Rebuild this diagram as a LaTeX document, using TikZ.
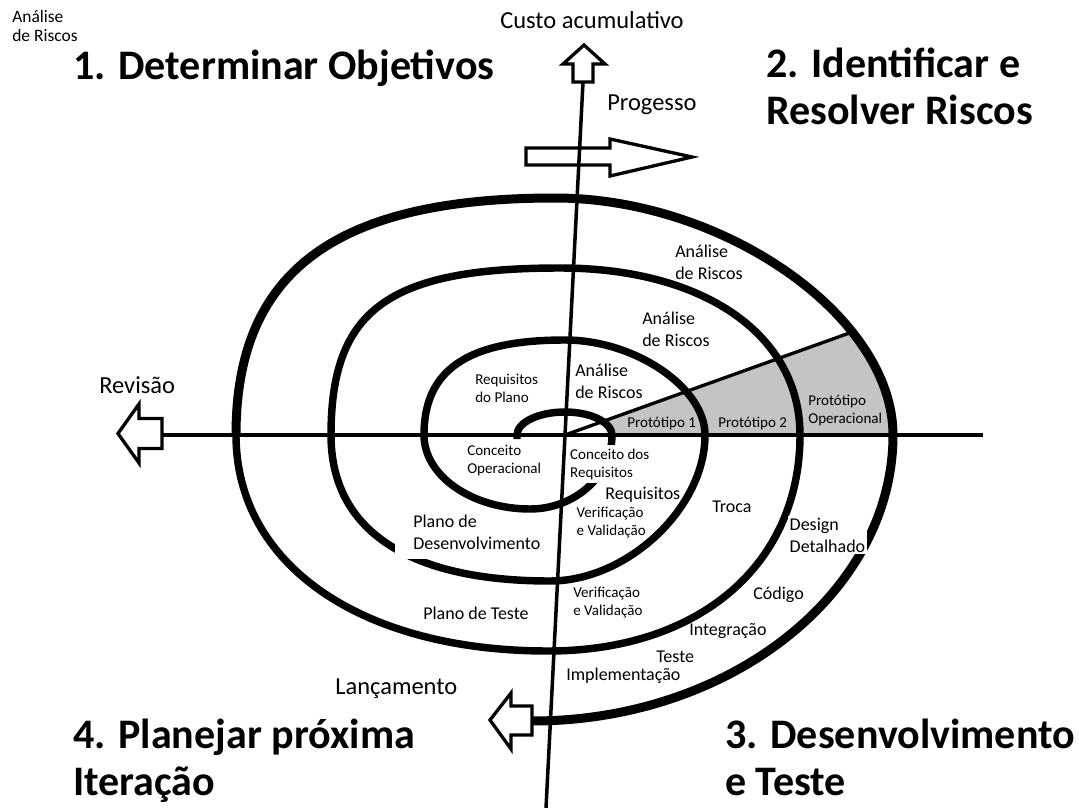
\documentclass[tikz,border=0pt]{standalone}
\usepackage{fontspec}
\setmainfont{Carlito}
\usetikzlibrary{intersections}
\definecolor{protogray}{RGB}{196,196,196}
\begin{document}
\begin{tikzpicture}[x=0.025cm,y=-0.025cm,
  spiral/.style={line width=5.3pt},
  outerspiral/.style={line width=6.4pt},
  axisline/.style={line width=2.5pt},
  slantline/.style={line width=2.35pt},
  blockarrow/.style={line width=2.35pt,fill=white,line join=miter},
  openarrow/.style={line width=2.35pt,line join=miter},
  lbl/.style={inner sep=0pt,anchor=base west,align=left},
  cut/.style={fill=white},
  fsmall/.style={font=\fontsize{10.7pt}{12.8pt}\selectfont},
  fmed/.style={font=\fontsize{12.8pt}{15.3pt}\selectfont},
  fmedwide/.style={font=\fontsize{12.8pt}{15.6pt}\selectfont},
  fbig/.style={font=\fontsize{17.4pt}{20pt}\selectfont},
  fcorner/.style={font=\fontsize{12.4pt}{14.2pt}\selectfont},
  ftitle/.style={font=\fontsize{29.9pt}{33.4pt}\selectfont\bfseries}]

\fill[white] (0,0) rectangle (1079,808);
\path[use as bounding box] (0,0) rectangle (1079,808);

\coordinate (ctr) at (565,435);

% grey prototype sector
\begin{scope}
  \clip (ctr) -- (1145,227) -- (1145,435) -- cycle;
  \fill[protogray] (236,435) .. controls (236,271.5) and (334.9,198) .. (555,198)
    .. controls (724,198) and (893,316.5) .. (893,435) -- cycle;
  \fill[white] (517,435) .. controls (517,422.4) and (538.6,412) .. (565,412)
    .. controls (590.9,412) and (612,422.4) .. (612,435) -- cycle;
\end{scope}

% spiral
\draw[spiral] (517,439) -- (517,435)
  .. controls (517,422.4) and (538.6,412) .. (565,412)
  .. controls (590.9,412) and (612,422.4) .. (612,435)
  .. controls (612,475.7) and (575.1,509) .. (530,509)
  .. controls (471.7,509) and (424,475.7) .. (424,435)
  .. controls (424,369.5) and (467.7,340) .. (565,340)
  .. controls (635,340) and (705,387.5) .. (705,435)
  .. controls (705,508) and (627.5,581) .. (550,581)
  .. controls (407.65,581) and (331,529.9) .. (331,435)
  .. controls (331,309.75) and (388.25,268) .. (560,268)
  .. controls (704,268) and (800,334.8) .. (800,435)
  .. controls (800,564.6) and (699.2,651) .. (548,651)
  .. controls (360.8,651) and (236,564.6) .. (236,435);
\draw[outerspiral, name path=u3path] (236,435)
  .. controls (236,271.5) and (334.9,198) .. (555,198)
  .. controls (724,198) and (893,316.5) .. (893,435)
  .. controls (893,592.3) and (730.6,721) .. (532,721);

% labels that interrupt the spiral
\node[lbl,fsmall,cut,inner sep=2.8pt] (concreq) at (566,477) {Conceito dos\\Requisitos};
\node[lbl,fsmall,cut,inner sep=1pt] (vv1) at (575,535) {Verificação\\e Validação};
\node[lbl,fmedwide,cut,inner sep=1pt] (design) at (788,552) {Design\\Detalhado};
\node[lbl,fmedwide,cut,inner xsep=12.8pt,inner ysep=1pt,text depth=6pt] (planodes) at (395,549) {Plano de\\Desenvolvimento};

% axes
\coordinate (costarrow) at (583,82);
\coordinate (vbottom) at (546,808);
\coordinate (revarrow) at (162,435);
\coordinate (hend) at (983,435);
\draw[axisline] (costarrow) -- (vbottom);
\draw[axisline] (revarrow) -- (hend);
\path[name path=ray] (ctr) -- (1145,227);
\draw[slantline, name intersections={of=u3path and ray, by=rayend}] (ctr) -- (rayend);

% block arrows
\draw[blockarrow] (584,45) -- (605,64) -- (593,64) -- (593,82) -- (573,82) -- (573,64) -- (563,64) -- cycle;
\draw[blockarrow] (118,433.5) -- (139,404) -- (139,418.5) -- (162,418.5) -- (162,448.5) -- (139,448.5) -- (139,463) -- cycle;
\draw[openarrow] (526,148) -- (610,148) -- (610,139) -- (692,157) -- (610,176) -- (610,165) -- (526,165) -- cycle;
\draw[blockarrow] (490,720) -- (511,693) -- (511,706) -- (532,706) -- (532,735) -- (511,735) -- (511,749) -- cycle;

% titles (anchor = baseline of last line)
\node[lbl,fcorner] (cornerRA) at (12,42) {Análise\\de Riscos};
\node[lbl,ftitle] (t1) at (73,80) {1. Determinar Objetivos};
\node[lbl,ftitle] (t2) at (766,124) {2. Identificar e\\Resolver Riscos};
\node[lbl,ftitle] (t4) at (73,795) {4. Planejar próxima\\Iteração};
\node[lbl,ftitle] (t3) at (725,795) {3. Desenvolvimento\\e Teste};

% axis labels
\node[lbl,fbig] (custo) at (500,29) {Custo acumulativo};
\node[lbl,fbig] (prog) at (607,111) {Progesso};
\node[lbl,fbig] (rev) at (99,393) {Revisão};
\node[lbl,fbig] (lanc) at (335,694) {Lançamento};

% spiral labels
\node[lbl,fmed] (ar3) at (675,279) {Análise\\de Riscos};
\node[lbl,fmed] (ar2) at (642,346) {Análise\\de Riscos};
\node[lbl,fmed] (ar1) at (575,398) {Análise\\de Riscos};
\node[lbl,fsmall] (reqplano) at (475,402) {Requisitos\\do Plano};
\node[lbl,fsmall] (p1) at (627,427) {Protótipo 1};
\node[lbl,fsmall] (p2) at (718,427) {Protótipo 2};
\node[lbl,fsmall] (pop) at (808,423) {Protótipo\\Operacional};
\node[lbl,fsmall] (concop) at (467,473) {Conceito\\Operacional};
\node[lbl,fmed] (req) at (605,499) {Requisitos};
\node[lbl,fmed] (troca) at (712,512) {Troca};
\node[lbl,fsmall] (vv2) at (573,615) {Verificação\\e Validação};
\node[lbl,fmed] (codigo) at (753,599) {Código};
\node[lbl,fmed] (integ) at (689,635) {Integração};
\node[lbl,fmed] (teste) at (656,662) {Teste};
\node[lbl,fmed] (impl) at (566,680) {Implementação};
\node[lbl,fmed] (planoteste) at (423,619) {Plano de Teste};
\end{tikzpicture}
\end{document}
